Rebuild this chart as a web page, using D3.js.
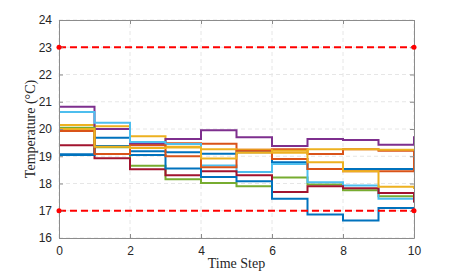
<!DOCTYPE html>
<html>
<head>
<meta charset="utf-8">
<script src="https://cdn.jsdelivr.net/npm/d3@7"></script>
<style>
  body { margin: 0; background: #fff; }
  svg { display: block; }
</style>
</head>
<body>
<svg id="chart" width="457" height="275"></svg>
<script>
// time steps 0..10, stairs style
const steps = d3.range(0, 11);
const xTicks = [0, 2, 4, 6, 8, 10];
const yTicks = [16, 17, 18, 19, 20, 21, 22, 23, 24];
const limits = [23, 17];

// MATLAB default color order
const colors = ['#0072BD', '#D95319', '#EDB120', '#7E2F8E', '#77AC30', '#4DBEEE', '#A2142F'];

// one row per zone, value at each step (last value is drawn as the final vertical)
const zone1 = [19.07, 19.68, 19.18, 19.15, 19.09, 19.15, 18.78, 18.53, 18.53, 18.53, 18.53];
const zone2 = [19.97, 19.38, 19.45, 19.48, 19.46, 19.24, 19.26, 19.08, 19.26, 19.20, 18.45];
const zone3 = [20.15, 20.10, 19.73, 19.35, 19.26, 19.24, 19.13, 19.26, 19.26, 19.24, 19.24];
const zone4 = [20.82, 20.00, 19.45, 19.63, 19.95, 19.70, 19.38, 19.63, 19.60, 19.42, 19.73];
const zone5 = [20.05, 19.33, 18.65, 18.16, 18.02, 17.90, 18.22, 17.96, 17.75, 17.53, 17.50];
const zone6 = [20.62, 20.23, 19.52, 19.45, 18.66, 18.42, 18.72, 18.05, 17.93, 17.44, 17.30];
const zone7 = [19.40, 18.93, 18.52, 18.30, 18.45, 18.30, 17.69, 17.90, 17.83, 17.65, 17.30];
const zone8 = [19.05, 19.38, 19.05, 18.55, 18.24, 18.08, 17.44, 16.86, 16.64, 17.10, 17.10];
const zone9 = [19.93, 19.08, 19.40, 19.00, 18.60, 19.20, 18.90, 18.53, 18.45, 18.45, 18.45];
const zone10 = [20.00, 19.35, 19.30, 19.32, 18.92, 19.13, 19.20, 18.78, 18.45, 17.88, 17.80];

const zones = [zone1, zone2, zone3, zone4, zone5, zone6, zone7, zone8, zone9, zone10];

const svg = d3.select('#chart');
const margin = {left: 59, right: 43, top: 20, bottom: 37};
const width = 457 - margin.left - margin.right,
    height = 275 - margin.top - margin.bottom;

const x = d3.scaleLinear().domain([0, 10]).range([margin.left, margin.left + width]);
const y = d3.scaleLinear().domain([16, 24]).range([margin.top + height, margin.top]);

const axisColor = '#8c8c8c';
const textColor = '#262626';

// grid
const grid = svg.append('g');
xTicks.forEach(t => {
    grid.append('line')
        .attr('x1', x(t)).attr('x2', x(t))
        .attr('y1', y(16)).attr('y2', y(24))
        .attr('stroke', '#e6e6e6')
        .attr('stroke-dasharray', '4,3');
});
yTicks.forEach(t => {
    grid.append('line')
        .attr('x1', x(0)).attr('x2', x(10))
        .attr('y1', y(t)).attr('y2', y(t))
        .attr('stroke', '#e6e6e6')
        .attr('stroke-dasharray', '4,3');
});

// stairs
const stairs = d3.line()
    .x(d => x(d[0]))
    .y(d => y(d[1]))
    .curve(d3.curveStepAfter);

zones.forEach((vals, i) => {
    const pts = vals.map((v, k) => [steps[k], v]);
    svg.append('path')
        .datum(pts)
        .attr('d', stairs)
        .attr('fill', 'none')
        .attr('stroke', colors[i % colors.length])
        .attr('stroke-width', 2);
});

// comfort limits
limits.forEach(l => {
    svg.append('line')
        .attr('x1', x(0)).attr('x2', x(10))
        .attr('y1', y(l)).attr('y2', y(l))
        .attr('stroke', '#ff0000')
        .attr('stroke-width', 2)
        .attr('stroke-dasharray', '7,4');
});

// axes (box, ticks inside)
const axisBottom = d3.axisBottom(x).tickValues(xTicks).tickSizeInner(-4).tickSizeOuter(0).tickPadding(8);
const axisTop = d3.axisTop(x).tickValues(xTicks).tickSizeInner(-4).tickSizeOuter(0).tickFormat('');
const axisLeft = d3.axisLeft(y).tickValues(yTicks).tickSizeInner(-4).tickSizeOuter(0).tickPadding(7);
const axisRight = d3.axisRight(y).tickValues(yTicks).tickSizeInner(-4).tickSizeOuter(0).tickFormat('');

function styleAxis(g) {
    g.selectAll('path').attr('stroke', axisColor);
    g.selectAll('line').attr('stroke', axisColor);
    g.selectAll('text')
        .attr('fill', textColor)
        .attr('font-family', 'Liberation Sans, Arial, sans-serif')
        .attr('font-size', 12);
}

svg.append('g').attr('transform', `translate(0,${y(16)})`).call(axisBottom).call(styleAxis);
svg.append('g').attr('transform', `translate(0,${y(24)})`).call(axisTop).call(styleAxis);
svg.append('g').attr('transform', `translate(${x(0)},0)`).call(axisLeft).call(styleAxis);
svg.append('g').attr('transform', `translate(${x(10)},0)`).call(axisRight).call(styleAxis);

// limit markers on top of the box
limits.forEach(l => {
    [0, 10].forEach(t => {
        svg.append('circle')
            .attr('cx', x(t)).attr('cy', y(l))
            .attr('r', 2.5)
            .attr('fill', '#ff0000');
    });
});

// labels
svg.append('text')
    .attr('x', x(5))
    .attr('y', 268)
    .attr('text-anchor', 'middle')
    .attr('font-family', 'Liberation Serif, serif')
    .attr('font-size', 14)
    .attr('fill', textColor)
    .text('Time Step');

svg.append('text')
    .attr('transform', `translate(35,${y(20)}) rotate(-90)`)
    .attr('text-anchor', 'middle')
    .attr('font-family', 'Liberation Serif, serif')
    .attr('font-size', 14)
    .attr('fill', textColor)
    .text('Temperature (°C)');
</script>
</body>
</html>
